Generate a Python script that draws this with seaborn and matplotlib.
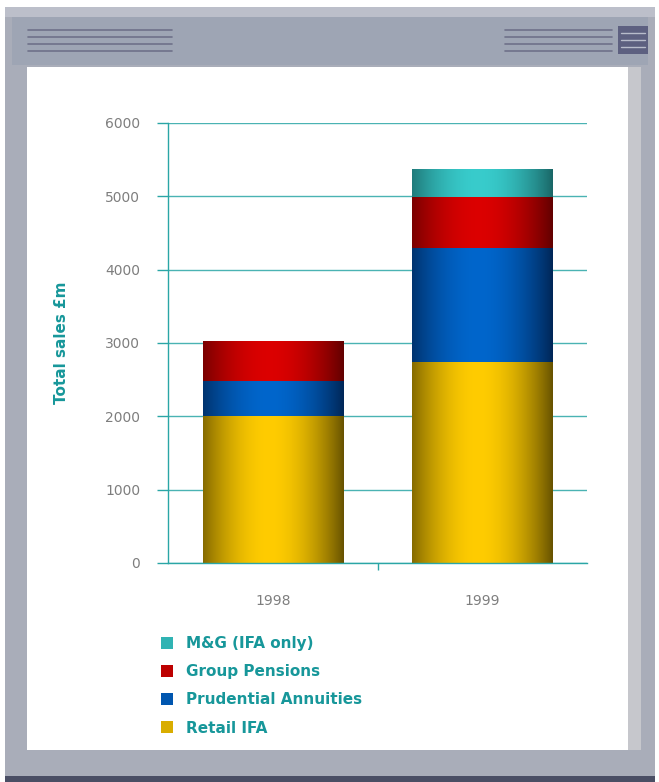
import numpy as np
import pandas as pd
import matplotlib
matplotlib.use("Agg")
import matplotlib.pyplot as plt
from matplotlib.patches import Rectangle, Patch
from matplotlib.lines import Line2D
import seaborn as sns

# ---- data ----
years = ["1998", "1999"]
series = ["Retail IFA", "Prudential Annuities", "Group Pensions", "M&G (IFA only)"]
retail_ifa = [2000, 2740]
prudential_annuities = [480, 1560]
group_pensions = [550, 690]
mg_ifa_only = [0, 380]
yticks = [0, 1000, 2000, 3000, 4000, 5000, 6000]

# ---- style ----
bright = {"Retail IFA": (1.00, 0.80, 0.00), "Prudential Annuities": (0.00, 0.40, 0.80),
          "Group Pensions": (0.86, 0.00, 0.00), "M&G (IFA only)": (0.22, 0.80, 0.80)}
dark = {"Retail IFA": (0.40, 0.32, 0.00), "Prudential Annuities": (0.00, 0.15, 0.34),
        "Group Pensions": (0.38, 0.00, 0.00), "M&G (IFA only)": (0.10, 0.40, 0.40)}
TEAL = "#2aa6a6"
TEXT_TEAL = "#17979a"
GREY_TXT = "#7e7e7e"

sns.set_theme(style="white")
plt.rcParams["font.family"] = ["DejaVu Sans"]

W, H = 659, 782
fig = plt.figure(figsize=(W / 100, H / 100), dpi=100)
fig.patch.set_facecolor("white")

def frect(x0, y0, x1, y1, color, z=-10):
    fig.patches.append(Rectangle((x0 / W, 1 - y1 / H), (x1 - x0) / W, (y1 - y0) / H,
                                 transform=fig.transFigure, facecolor=color,
                                 edgecolor="none", zorder=z))

def fline(x0, x1, y, color, lw=1.2, z=-5):
    fig.add_artist(Line2D([x0 / W, x1 / W], [1 - y / H, 1 - y / H], transform=fig.transFigure,
                          color=color, lw=lw, zorder=z))

# window frame
frect(5, 7, 655, 782, "#a9adb9", -10)
frect(5, 7, 655, 17, "#bcbfca", -9)
frect(12, 17, 648, 65, "#9ea5b4", -9)
frect(27, 67, 628, 750, "white", -9)
frect(628, 67, 641, 750, "#c6c7cc", -9)
frect(5, 776, 655, 782, "#4a4e64", -9)
for yy in (30, 37, 44, 51):
    fline(28, 172, yy, "#6f7189")
    fline(505, 612, yy, "#6f7189")
frect(618, 26, 648, 54, "#5d6080", -6)
for yy in (33, 40, 47):
    fline(621, 645, yy, "#b8bccb", 1.0, -4)

# ---- axes ----
ax = fig.add_axes([168 / W, 1 - 563 / H, 419 / W, 440 / H])
ax.set_facecolor("white")

df = pd.DataFrame({"year": years, "Retail IFA": retail_ifa,
                   "Prudential Annuities": prudential_annuities,
                   "Group Pensions": group_pensions, "M&G (IFA only)": mg_ifa_only})
cum = df[series].cumsum(axis=1)

order = series[::-1]  # largest cumulative first
for s in order:
    sns.barplot(x=df["year"], y=cum[s], color=bright[s], saturation=1, width=0.67,
                ax=ax, edgecolor="none", linewidth=0)

# gradient shading clipped to each bar (cylinder look)
t = np.linspace(0, 1, 200)
g = np.clip(np.cos((t - 0.47) / 0.53 * np.pi / 2), 0, 1) ** 0.9
for i, p in enumerate(ax.patches):
    s = order[i // len(years)]
    b, d = np.array(bright[s]), np.array(dark[s])
    img = d[None, :] + (b - d)[None, :] * g[:, None]
    x0, y0 = p.get_x(), p.get_y()
    w, h = p.get_width(), p.get_height()
    if h <= 0:
        continue
    im = ax.imshow(img[None, :, :], extent=[x0, x0 + w, y0, y0 + h], aspect="auto",
                   zorder=2 + i * 0.01, interpolation="bilinear")
    im.set_clip_path(p)

ax.set_xlim(-0.5, 1.5)
ax.set_ylim(0, 6000)
ax.set_yticks(yticks)
ax.set_yticklabels([str(v) for v in yticks])
ax.set_xlabel("")
ax.set_ylabel("Total sales £m", color=TEXT_TEAL, fontsize=11, fontweight="bold", labelpad=26)

ax.set_axisbelow(True)
ax.yaxis.grid(True, color=TEAL, lw=1.0, alpha=0.85)
ax.xaxis.grid(False)
for sp in ("top", "right"):
    ax.spines[sp].set_visible(False)
for sp in ("left", "bottom"):
    ax.spines[sp].set_color(TEAL)
    ax.spines[sp].set_linewidth(1.0)

ax.tick_params(axis="y", which="major", left=True, length=8, width=1, color=TEAL,
               labelcolor=GREY_TXT, labelsize=10, pad=12)
ax.tick_params(axis="x", which="major", bottom=False, length=0, labelcolor=GREY_TXT,
               labelsize=10, pad=22)
ax.set_xticks([0.5], minor=True)
ax.tick_params(axis="x", which="minor", bottom=True, length=5, width=1, color=TEAL,
               direction="out")

# ---- legend ----
leg_labels = series[::-1]
handles = [Patch(facecolor=tuple((np.array(bright[s]) * 0.75 + np.array(dark[s]) * 0.25)),
                 edgecolor="none") for s in leg_labels]
leg = fig.legend(handles, leg_labels, loc="upper left",
                 bbox_to_anchor=(155 / W, 1 - 630 / H), frameon=False,
                 handlelength=0.8, handleheight=0.8, handletextpad=0.85,
                 labelspacing=0.86, prop={"weight": "bold", "size": 11},
                 labelcolor=TEXT_TEAL, borderaxespad=0)

fig.savefig("out.png", dpi=100, facecolor=fig.get_facecolor())
